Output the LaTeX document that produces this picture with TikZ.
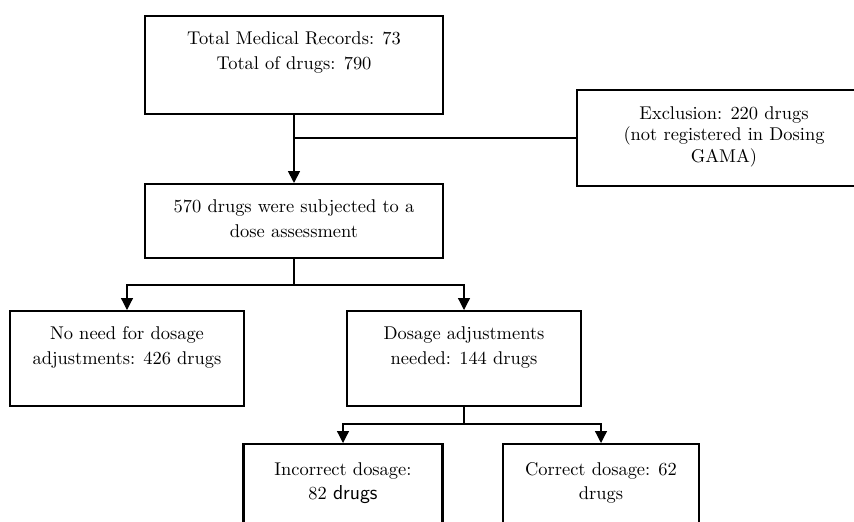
\documentclass[tikz,border=0pt]{standalone}
\usepackage{tikz}
\usetikzlibrary{arrows.meta,calc,positioning}
\tikzset{
  flowbox/.style={draw,line width=1.2pt,anchor=north,align=center,inner xsep=0pt,inner ysep=0pt,font=\fontsize{10.5}{14}\selectfont,text height=1.07cm},
  flowlink/.style={line width=0.7pt},
  flowarrow/.style={-{Triangle[length=6.8pt,width=6.8pt]},line width=0.7pt}
}
\begin{document}
\begin{tikzpicture}[x=0.02cm,y=-0.02cm]
\useasboundingbox (0,0) rectangle (854,521);
\clip (0,0) rectangle (854,521);
% boxes
\node[flowbox,minimum width=5.96cm,text depth=0.886cm] (records) at (294,15) {Total Medical Records: 73\\Total of drugs: 790};
\node[flowbox,minimum width=5.88cm,text height=1.448cm,text depth=0.472cm,font=\fontsize{10.5}{12.3}\selectfont] (exclusion) at (724,89) {Exclusion: 220 drugs\\(not registered in Dosing\\GAMA)};
\node[flowbox,minimum width=5.96cm,text depth=0.406cm] (assessed) at (294,183) {570 drugs were subjected to a\\dose assessment};
\node[flowbox,minimum width=4.68cm,text depth=0.826cm] (noadjust) at (127,310) {No need for dosage\\adjustments: 426 drugs};
\node[flowbox,minimum width=4.68cm,text depth=0.826cm] (adjust) at (464,310) {Dosage adjustments\\needed: 144 drugs};
\node[flowbox,minimum width=3.98cm,text height=1.114cm,text depth=0.806cm] (incorrect) at (343,443) {Incorrect dosage:\\82 {\sffamily\fontsize{11.5}{14}\selectfont drugs}};
\node[flowbox,minimum width=3.92cm,text height=1.114cm,text depth=0.806cm] (correct) at (601,443) {Correct dosage: 62\\drugs};
% connectors
\draw[flowarrow,line width=1pt] (records.south) -- (assessed.north);
\coordinate (split1) at (records.south |- exclusion.west);
\draw[flowlink,line width=1pt] (split1) -- (exclusion.west);
\coordinate (split2) at ($(assessed.south)+(0,26)$);
\draw[flowlink] (assessed.south) -- (split2);
\draw[flowarrow] (split2) -| (noadjust.north);
\draw[flowarrow] (split2) -| (adjust.north);
\coordinate (split3) at ($(adjust.south)+(0,17)$);
\draw[flowlink] (adjust.south) -- (split3);
\draw[flowarrow] (split3) -| (incorrect.north);
\draw[flowarrow] (split3) -| (correct.north);
\end{tikzpicture}
\end{document}
